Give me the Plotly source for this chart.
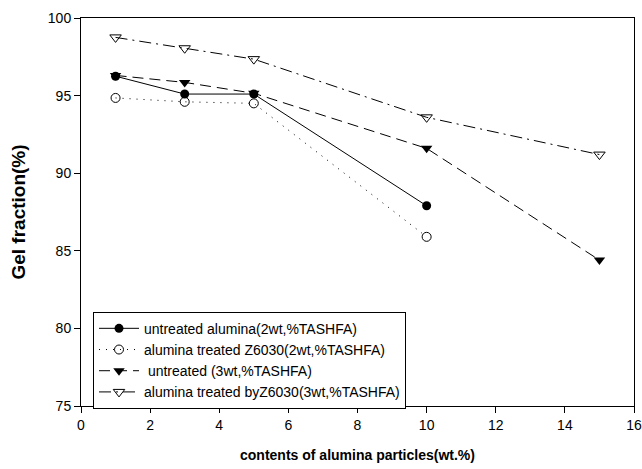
import plotly.graph_objects as go

x_2wt = [1, 3, 5, 10]
x_3wt = [1, 3, 5, 10, 15]
untreated_2wt = [96.25, 95.1, 95.1, 87.9]
treated_2wt = [94.85, 94.6, 94.5, 85.9]
untreated_3wt = [96.3, 95.85, 95.15, 91.6, 84.4]
treated_3wt = [98.75, 98.05, 97.35, 93.6, 91.2]

names = [
    "untreated alumina(2wt,%TASHFA)",
    "alumina treated Z6030(2wt,%TASHFA)",
    " untreated (3wt,%TASHFA)",
    "alumina treated byZ6030(3wt,%TASHFA)",
]

FONT = "Liberation Sans, Arial"

fig = go.Figure()
fig.add_trace(go.Scatter(x=x_2wt, y=untreated_2wt, name=names[0], mode="lines+markers",
                         line=dict(color="black", width=1, dash="solid"),
                         marker=dict(symbol="circle", size=9, color="black")))
fig.add_trace(go.Scatter(x=x_2wt, y=treated_2wt, name=names[1], mode="lines+markers",
                         line=dict(color="black", width=1, dash="1px,6px"),
                         marker=dict(symbol="circle-open", size=9, color="black", line=dict(width=1))))
fig.add_trace(go.Scatter(x=x_3wt, y=untreated_3wt, name=names[2], mode="lines+markers",
                         line=dict(color="black", width=1, dash="11px,6px"),
                         marker=dict(symbol="triangle-down", size=10, color="black")))
fig.add_trace(go.Scatter(x=x_3wt, y=treated_3wt, name=names[3], mode="lines+markers",
                         line=dict(color="black", width=1, dash="12px,5px,2px,5px"),
                         marker=dict(symbol="triangle-down-open", size=10, color="black", line=dict(width=1))))

axis_common = dict(showline=True, linecolor="black", linewidth=1, mirror=True,
                   ticks="outside", ticklen=6, tickcolor="black", showgrid=False,
                   zeroline=False, automargin=False,
                   tickfont=dict(family=FONT, size=14, color="black"))

fig.update_layout(
    width=642, height=469,
    margin=dict(l=81, r=8, t=18, b=63),
    paper_bgcolor="white", plot_bgcolor="white",
    showlegend=True,
    legend=dict(x=0.0217, y=0.243, xanchor="left", yanchor="top",
                bgcolor="white", bordercolor="black", borderwidth=1,
                font=dict(family=FONT, size=14, color="black"),
                tracegroupgap=0, itemwidth=40),
    xaxis=dict(range=[0, 16], tickvals=[0, 2, 4, 6, 8, 10, 12, 14, 16],
               title=dict(text="<b>contents of alumina particles(wt.%)</b>",
                          font=dict(family=FONT, size=14, color="black"),
                          standoff=18),
               **axis_common),
    yaxis=dict(range=[75, 100], tickvals=[75, 80, 85, 90, 95, 100],
               title=dict(text="<b>Gel fraction(%)</b>",
                          font=dict(family=FONT, size=19, color="black"),
                          standoff=17),
               **axis_common),
)

fig.write_html("out.html", config={"displayModeBar": False},
               post_script="document.body.style.margin='0';")
